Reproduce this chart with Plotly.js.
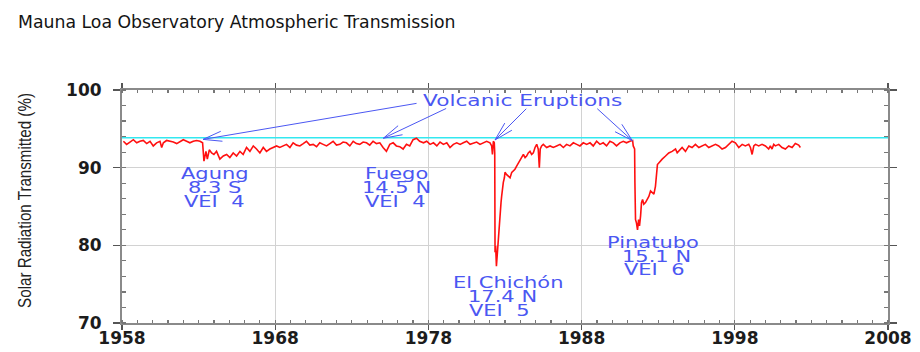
<!DOCTYPE html>
<html>
<head>
<meta charset="utf-8">
<script src="https://cdn.plot.ly/plotly-3.0.1.min.js"></script>
<style>
  html, body { margin: 0; padding: 0; background: #fff; }
  #chart { width: 920px; height: 352px; }
  .annotation-text { transform-box: fill-box; transform-origin: 50% 50%; transform: scaleX(1.4); }
  .ytitle { transform-box: fill-box; transform-origin: 50% 50%; transform: rotate(-90deg) scaleX(0.82); }
</style>
</head>
<body>
<div id="chart"></div>
<script>
// Year (decimal) of each reading
const years = [
  1958.09,1958.30,1958.52,1958.74,1958.96,1959.17,1959.39,1959.61,1959.83,1960.04,
  1960.26,1960.48,1960.59,1960.70,1960.91,1961.13,1961.35,1961.57,1961.78,1962.00,
  1962.22,1962.43,1962.65,1962.87,1963.09,1963.26,
  1963.35,1963.48,1963.57,1963.70,1963.85,1964.00,1964.17,1964.39,1964.61,1964.83,
  1965.04,1965.26,1965.48,1965.70,1965.91,1966.13,1966.35,1966.57,1966.78,1967.00,
  1967.22,1967.43,1967.65,1967.87,1968.09,1968.30,1968.52,1968.74,1968.96,1969.17,
  1969.39,1969.61,1969.83,1970.04,1970.26,1970.48,1970.70,1970.91,1971.13,1971.35,
  1971.57,1971.78,1972.00,1972.22,1972.43,1972.65,1972.87,1973.09,1973.30,1973.52,
  1973.74,1973.96,1974.17,1974.39,1974.61,1974.83,1975.04,1975.26,1975.48,1975.70,
  1975.91,1976.13,1976.35,1976.57,1976.78,1977.00,1977.22,1977.43,
  1977.68,1977.89,1978.11,1978.33,1978.55,1978.76,1978.98,1979.20,1979.41,1979.63,
  1979.85,1980.07,1980.28,1980.50,1980.72,1980.94,1981.15,1981.37,1981.59,1981.80,
  1982.02,1982.13,1982.18,1982.24,1982.30,
  1982.33,1982.35,1982.39,1982.44,1982.48,1982.52,1982.57,1982.63,1982.68,1982.74,
  1982.78,1982.85,1982.89,1982.96,1983.00,1983.11,1983.22,1983.33,1983.44,1983.55,
  1983.65,1983.76,1983.87,1983.98,1984.09,1984.20,1984.31,1984.41,1984.52,1984.63,
  1984.74,1984.85,1984.96,1985.07,1985.17,1985.24,1985.30,1985.39,1985.50,1985.72,
  1985.94,1986.15,1986.37,1986.59,1986.81,1987.02,1987.24,1987.46,1987.68,1987.89,
  1988.11,1988.33,1988.55,1988.76,1988.98,1989.20,1989.41,1989.63,1989.85,1990.07,
  1990.28,1990.50,1990.72,1990.93,1991.15,1991.33,1991.37,1991.42,1991.46,
  1991.48,1991.52,1991.58,1991.65,1991.72,1991.78,1991.85,1991.91,1991.98,1992.06,
  1992.17,1992.28,1992.39,1992.50,1992.61,1992.72,1992.82,1992.89,1992.95,1993.04,
  1993.15,1993.26,1993.48,1993.69,1993.91,1994.13,1994.24,1994.35,1994.56,1994.78,
  1995.00,1995.21,1995.43,1995.65,1995.87,1996.08,1996.30,1996.52,1996.74,1996.95,
  1997.17,1997.39,1997.61,1997.82,1998.04,1998.26,1998.48,1998.69,1998.91,1999.02,
  1999.13,1999.24,1999.35,1999.56,1999.78,2000.00,2000.21,2000.32,2000.43,2000.54,
  2000.65,2000.87,2001.08,2001.30,2001.52,2001.74,2001.95,2002.17,2002.28
];

// Solar radiation transmitted (%)
const transmission = [
  93.4,93.0,93.3,93.6,93.2,93.4,93.5,93.1,93.4,92.8,
  93.2,93.4,92.6,93.2,93.5,93.4,93.3,93.1,93.4,93.6,
  93.4,93.2,93.4,93.5,93.4,93.2,
  90.85,92.1,91.1,92.3,91.9,91.7,92.1,91.1,91.5,91.7,
  91.3,91.9,91.5,92.1,91.7,92.6,92.1,92.8,92.4,91.9,
  92.6,92.1,92.4,92.6,92.8,92.6,92.8,93.0,92.6,93.2,
  92.9,92.8,93.1,93.4,92.9,93.0,92.7,93.2,93.0,92.8,
  93.1,93.4,92.9,93.0,93.3,93.2,92.8,93.4,93.1,93.0,
  93.3,93.2,92.9,93.4,93.1,93.2,92.6,92.1,93.0,93.2,
  92.8,92.7,92.4,93.0,92.8,93.6,93.8,93.4,
  93.2,93.4,93.0,93.2,92.8,93.3,93.0,93.2,92.6,93.0,
  93.2,93.0,93.2,93.4,93.0,93.2,93.3,93.0,93.2,93.4,
  93.2,92.8,91.7,93.4,93.2,
  91.9,79.1,79.9,77.3,78.6,79.5,80.8,83.3,84.2,85.5,
  86.3,87.6,88.1,88.7,89.4,89.1,88.9,88.7,89.4,89.6,
  89.8,90.2,90.6,91.1,91.3,91.7,91.3,91.5,91.9,92.1,
  91.7,91.9,92.6,93.0,92.4,90.0,92.4,92.8,93.0,92.6,
  92.8,92.6,92.8,93.0,92.6,93.0,92.8,93.2,93.0,92.8,
  93.2,93.0,93.2,92.8,93.4,93.0,93.2,92.8,93.4,93.2,
  92.8,93.2,93.4,93.2,93.4,93.5,92.8,92.6,92.4,
  88.1,83.3,82.9,82.0,83.3,82.5,83.8,85.5,85.9,85.3,
  85.5,85.9,86.3,87.0,86.8,86.6,87.6,89.1,90.4,90.6,
  90.9,91.1,91.5,91.9,92.1,92.4,91.9,92.1,92.6,92.1,
  92.8,92.6,93.0,92.6,92.8,93.0,92.6,92.8,93.0,92.8,
  92.4,92.6,93.0,93.4,93.2,92.6,93.0,92.8,93.0,92.6,
  91.7,92.8,93.0,92.8,93.0,92.8,92.4,92.8,92.4,93.0,
  92.8,93.0,92.6,92.4,92.8,92.6,93.1,92.9,92.6
];

// Pre-eruption clear-sky reference level
const referenceYears = [1958, 2008];
const referenceLevel = [93.85, 93.85];

// Eruptions: labels and arrow tips (year, value)
const eruptionNames = ['Agung', 'Fuego', 'El Chichón', 'Pinatubo'];
const eruptionLat = ['8.3 S', '14.5 N', '17.4 N', '15.1 N'];
const eruptionVEI = ['VEI  4', 'VEI  4', 'VEI  5', 'VEI  6'];
const eruptionYears = [1963.29, 1975.06, 1982.35, 1991.31];
const eruptionTipValues = [93.64, 93.79, 93.57, 93.48];

const xTicks = [1958, 1968, 1978, 1988, 1998, 2008];
const yTicks = [70, 80, 90, 100];

const blue = '#4b57f2';
const labelFont = { family: 'DejaVu Sans', size: 15, color: blue };

// Layout positions (data units) for labels and arrow tails
const labelX = [[1964.07, 1964.07, 1964.07], [1975.92, 1975.95, 1975.85],
                [1983.22, 1982.84, 1982.67], [1992.66, 1992.88, 1992.77]];
const labelY = [[89.2, 87.44, 85.69], [89.2, 87.4, 85.69],
                [75.18, 73.38, 71.67], [80.33, 78.62, 76.89]];
const tailX = [1977.26, 1979.19, 1984.42, 1988.99];
const tailY = [98.29, 97.65, 97.65, 97.65];

const margin = { l: 122, r: 32, t: 90, b: 29 };
const W = 920, H = 352;
const xRange = [1958, 2008], yRange = [70, 100];
const pxPerYear = (W - margin.l - margin.r) / (xRange[1] - xRange[0]);
const pxPerUnit = (H - margin.t - margin.b) / (yRange[1] - yRange[0]);

const annotations = [];
annotations.push({
  x: 1984.14, y: 98.61, xref: 'x', yref: 'y', text: 'Volcanic Eruptions',
  showarrow: false, xanchor: 'center', yanchor: 'middle',
  font: { family: 'DejaVu Sans', size: 15.5, color: blue }
});

function lineAnn(x, y, axPix, ayPix) {
  return {
    x: x, y: y, xref: 'x', yref: 'y', ax: axPix, ay: ayPix,
    text: '', showarrow: true, arrowhead: 0, arrowwidth: 1, arrowcolor: blue,
    standoff: 0, startstandoff: 0, borderpad: 0, font: { size: 1 }
  };
}

for (let i = 0; i < eruptionNames.length; i++) {
  const lines = [eruptionNames[i], eruptionLat[i], eruptionVEI[i]];
  for (let j = 0; j < 3; j++) {
    annotations.push({
      x: labelX[i][j], y: labelY[i][j], xref: 'x', yref: 'y', text: lines[j],
      showarrow: false, xanchor: 'center', yanchor: 'middle', font: labelFont
    });
  }
  // shaft (pixel offset of tail relative to tip)
  const dx = (tailX[i] - eruptionYears[i]) * pxPerYear;
  const dy = -(tailY[i] - eruptionTipValues[i]) * pxPerUnit;
  annotations.push(lineAnn(eruptionYears[i], eruptionTipValues[i], dx, dy));
  // two barbs of an open arrow head
  const ang = Math.atan2(dy, dx);
  const barbLen = 20, spread = 15 * Math.PI / 180;
  [-spread, spread].forEach(function (s) {
    annotations.push(lineAnn(eruptionYears[i], eruptionTipValues[i],
      barbLen * Math.cos(ang + s), barbLen * Math.sin(ang + s)));
  });
}

const tickFont = { family: 'DejaVu Sans', size: 17, color: '#1c1c1c', weight: 'bold' };

const data = [
  {
    x: referenceYears, y: referenceLevel, type: 'scatter', mode: 'lines',
    line: { color: '#33e8f0', width: 1.5 }, hoverinfo: 'skip', showlegend: false
  },
  {
    x: years, y: transmission, type: 'scatter', mode: 'lines',
    line: { color: '#ff1010', width: 1.6 }, showlegend: false
  }
];

const layout = {
  width: W, height: H,
  margin: margin,
  paper_bgcolor: '#ffffff', plot_bgcolor: '#ffffff',
  title: {
    text: 'Mauna Loa Observatory Atmospheric Transmission',
    x: 18 / 920, xanchor: 'left', xref: 'container',
    y: 1 - 22 / 352, yanchor: 'middle', yref: 'container',
    font: { family: 'DejaVu Sans', size: 17.3, color: '#141414' }
  },
  xaxis: {
    range: xRange, tickvals: xTicks, ticktext: xTicks.map(String),
    tickfont: tickFont, ticks: 'outside', ticklen: 5, tickwidth: 1.2, tickcolor: '#555',
    ticklabelstandoff: -6,
    showline: true, linecolor: '#8a8a8a', linewidth: 2, mirror: 'allticks',
    showgrid: true, gridcolor: '#d2d2d2', gridwidth: 1, zeroline: false,
    minor: { dtick: 1, tick0: 1958, ticks: 'inside', ticklen: 3, tickcolor: '#777', showgrid: false },
    fixedrange: true
  },
  yaxis: {
    range: yRange, tickvals: yTicks, ticktext: yTicks.map(String),
    tickfont: tickFont, ticks: 'outside', ticklen: 7, tickwidth: 1.2, tickcolor: '#555',
    ticklabelstandoff: 8,
    showline: true, linecolor: '#8a8a8a', linewidth: 2, mirror: 'allticks',
    showgrid: true, gridcolor: '#d2d2d2', gridwidth: 1, zeroline: false,
    minor: { dtick: 2, tick0: 70, ticks: 'inside', ticklen: 4, tickcolor: '#777', showgrid: false },
    title: {
      text: 'Solar Radiation Transmitted (%)', standoff: 36,
      font: { family: 'Liberation Sans, Arial, sans-serif', size: 18.5, color: '#222' }
    },
    fixedrange: true
  },
  annotations: annotations,
  showlegend: false
};

Plotly.newPlot('chart', data, layout, { displayModeBar: false, staticPlot: true });
</script>
</body>
</html>
